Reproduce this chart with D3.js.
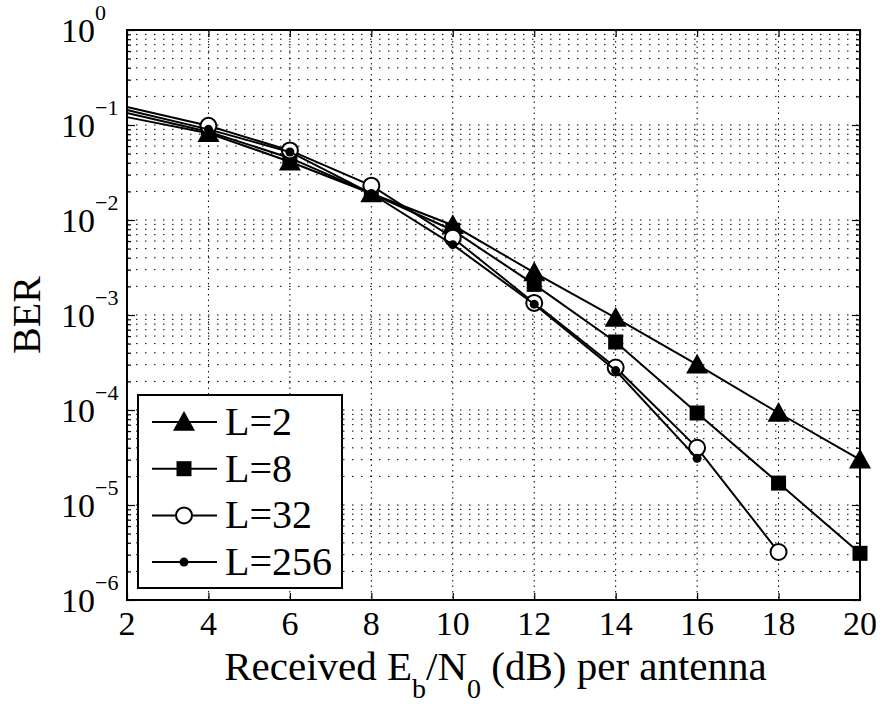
<!DOCTYPE html>
<html>
<head>
<meta charset="utf-8">
<script src="https://cdn.jsdelivr.net/npm/d3@7"></script>
<style>
  html, body { margin: 0; padding: 0; background: #fff; }
  svg { display: block; }
</style>
</head>
<body>
<svg id="chart" width="883" height="704" font-family="'Liberation Serif', 'Times New Roman', Times, 'DejaVu Serif', serif"></svg>
<script>
// Eb/N0 sweep (dB) and BER for each number of paths L
const snr = [2, 4, 6, 8, 10, 12, 14, 16, 18, 20];
const berL2   = [0.121, 0.082, 0.041, 0.019, 0.0088, 0.0028, 0.00093, 0.00030, 0.000093, 0.000030];
const berL8   = [0.134, 0.085, 0.045, 0.019, 0.0078, 0.0021, 0.00052, 0.000093, 0.000017, 0.0000031];
const berL32  = [0.155, 0.098, 0.054, 0.023, 0.0065, 0.00134, 0.00028, 0.000040, 0.0000032];
const berL256 = [0.144, 0.090, 0.052, 0.019, 0.0055, 0.0013, 0.00026, 0.000031];
const seriesNames = ["L=2", "L=8", "L=32", "L=256"];
const xTicks = [2, 4, 6, 8, 10, 12, 14, 16, 18, 20];
const yExponents = [0, -1, -2, -3, -4, -5, -6];

const series = [
  { name: seriesNames[0], values: berL2,   marker: "triangle" },
  { name: seriesNames[1], values: berL8,   marker: "square" },
  { name: seriesNames[2], values: berL32,  marker: "circle" },
  { name: seriesNames[3], values: berL256, marker: "dot" }
];

const svg = d3.select("#chart");
const plot = { left: 127, right: 860, top: 30, bottom: 600 };

const x = d3.scaleLinear().domain([2, 20]).range([plot.left, plot.right]);
const y = d3.scaleLog().domain([1e-6, 1]).range([plot.bottom, plot.top]);

// Grid: horizontal lines at every log tick, vertical lines at major x ticks
const yGridVals = [];
for (let e = -6; e < 0; e++) for (let m = 1; m <= 9; m++) yGridVals.push(m * Math.pow(10, e));
const yMajor = yExponents.map(e => Math.pow(10, e));
const yMinor = yGridVals.filter(v => !yMajor.some(m => Math.abs(m - v) / m < 1e-9));

const grid = svg.append("g").attr("stroke", "#000").attr("stroke-width", 1).attr("fill", "none");
grid.selectAll("line.h").data(yGridVals.filter(v => v > 1e-6)).join("line")
  .attr("x1", plot.left).attr("x2", plot.right)
  .attr("y1", d => y(d)).attr("y2", d => y(d))
  .attr("stroke-dasharray", "1.5,7.5");
grid.selectAll("line.v").data(xTicks.slice(1, -1)).join("line")
  .attr("x1", d => x(d)).attr("x2", d => x(d))
  .attr("y1", plot.top).attr("y2", plot.bottom)
  .attr("stroke-dasharray", "1.5,4");

// Axes with inward ticks on all four sides
function styleAxis(g) {
  g.select(".domain").remove();
  g.selectAll("line").attr("stroke", "#000").attr("stroke-width", 1.2);
  g.selectAll("text").remove();
}
svg.append("g").attr("transform", `translate(0,${plot.bottom})`)
  .call(d3.axisBottom(x).tickValues(xTicks).tickSize(-7)).call(styleAxis);
svg.append("g").attr("transform", `translate(0,${plot.top})`)
  .call(d3.axisTop(x).tickValues(xTicks).tickSize(-7)).call(styleAxis);
svg.append("g").attr("transform", `translate(${plot.left},0)`)
  .call(d3.axisLeft(y).tickValues(yMajor).tickSize(-8)).call(styleAxis);
svg.append("g").attr("transform", `translate(${plot.left},0)`)
  .call(d3.axisLeft(y).tickValues(yMinor).tickSize(-4)).call(styleAxis);
svg.append("g").attr("transform", `translate(${plot.right},0)`)
  .call(d3.axisRight(y).tickValues(yMajor).tickSize(-8)).call(styleAxis);
svg.append("g").attr("transform", `translate(${plot.right},0)`)
  .call(d3.axisRight(y).tickValues(yMinor).tickSize(-4)).call(styleAxis);

svg.append("rect")
  .attr("x", plot.left).attr("y", plot.top)
  .attr("width", plot.right - plot.left).attr("height", plot.bottom - plot.top)
  .attr("fill", "none").attr("stroke", "#000").attr("stroke-width", 2);

// Tick labels
svg.append("g").selectAll("text").data(xTicks).join("text")
  .attr("x", d => x(d)).attr("y", 635)
  .attr("text-anchor", "middle").attr("font-size", 34)
  .text(d => d);

const yLab = svg.append("g").selectAll("g").data(yExponents).join("g");
yLab.append("text")
  .attr("x", 61).attr("y", d => y(Math.pow(10, d)) + 12)
  .attr("font-size", 34).text("10");
yLab.append("text")
  .attr("x", 95).attr("y", d => y(Math.pow(10, d)) - 10)
  .attr("font-size", 22)
  .text(d => d === 0 ? "0" : "\u2212" + Math.abs(d));

// Axis titles
const xt = svg.append("text").attr("x", (plot.left + plot.right) / 2 + 2).attr("y", 680)
  .attr("text-anchor", "middle").attr("font-size", 41);
xt.append("tspan").text("Received E");
xt.append("tspan").attr("font-size", 28).attr("dy", 18).text("b");
xt.append("tspan").attr("dy", -18).text("/N");
xt.append("tspan").attr("font-size", 28).attr("dy", 18).text("0");
xt.append("tspan").attr("dy", -18).text(" (dB) per antenna");

svg.append("text")
  .attr("transform", `translate(40,${(plot.top + plot.bottom) / 2}) rotate(-90)`)
  .attr("text-anchor", "middle").attr("font-size", 40).text("BER");

// Markers
function drawMarker(g, type, cx, cy) {
  if (type === "triangle") {
    const s = 11;
    g.append("path")
      .attr("d", `M${cx},${cy - s}L${cx + s},${cy + s * 0.8}L${cx - s},${cy + s * 0.8}Z`)
      .attr("fill", "#000");
  } else if (type === "square") {
    g.append("rect").attr("x", cx - 7.5).attr("y", cy - 7.5)
      .attr("width", 15).attr("height", 15).attr("fill", "#000");
  } else if (type === "circle") {
    g.append("circle").attr("cx", cx).attr("cy", cy).attr("r", 8)
      .attr("fill", "#fff").attr("stroke", "#000").attr("stroke-width", 2);
  } else {
    g.append("circle").attr("cx", cx).attr("cy", cy).attr("r", 4.5).attr("fill", "#000");
  }
}

const line = d3.line().x((d, i) => x(snr[i])).y(d => y(d));
const marks = svg.append("g");
series.forEach(s => {
  const g = marks.append("g");
  g.append("path").attr("d", line(s.values))
    .attr("fill", "none").attr("stroke", "#000").attr("stroke-width", 2);
  s.values.forEach((v, i) => {
    if (snr[i] === 2) return;
    drawMarker(g, s.marker, x(snr[i]), y(v));
  });
});

// Legend
const lg = svg.append("g");
lg.append("rect").attr("x", 138).attr("y", 395).attr("width", 204).attr("height", 193)
  .attr("fill", "#fff").attr("stroke", "#000").attr("stroke-width", 2);
series.forEach((s, i) => {
  const ly = 422 + i * 46.7;
  lg.append("line").attr("x1", 152).attr("x2", 217).attr("y1", ly).attr("y2", ly)
    .attr("stroke", "#000").attr("stroke-width", 2);
  drawMarker(lg, s.marker, 184, ly);
  lg.append("text").attr("x", 225).attr("y", ly + 13).attr("font-size", 40).text(s.name);
});
</script>
</body>
</html>
